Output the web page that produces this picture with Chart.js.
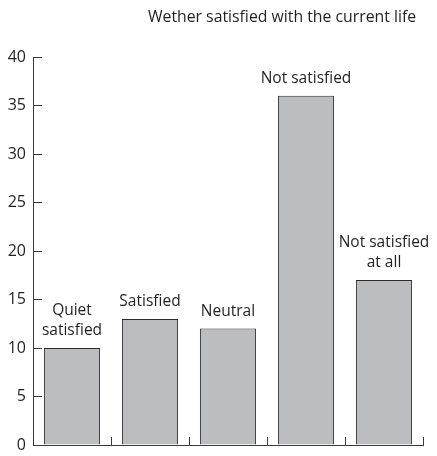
<!DOCTYPE html>
<html>
<head>
<meta charset="utf-8">
<script src="https://cdn.jsdelivr.net/npm/chart.js@4/dist/chart.umd.min.js"></script>
<style>
  html, body { margin: 0; padding: 0; background: #fff; }
  #wrap { width: 437px; height: 456px; }
</style>
</head>
<body>
<div id="wrap"><canvas id="chart"></canvas></div>
<script>
"use strict";

// Answers to the survey question, one bar per answer
var categories = ['Quiet satisfied', 'Satisfied', 'Neutral', 'Not satisfied', 'Not satisfied at all'];
var barLabels  = [['Quiet', 'satisfied'], ['Satisfied'], ['Neutral'], ['Not satisfied'], ['Not satisfied', 'at all']];
var counts     = [10, 13, 12, 36, 17];
var yTicks     = [0, 5, 10, 15, 20, 25, 30, 35, 40];
var chartTitle = 'Wether satisfied with the current life';

var FONT = '"Open Sans", "DejaVu Sans", sans-serif';
var INK  = '#231f20';
var AXIS = '#3a3a3a';

// Title and the captions above each bar
var labelsPlugin = {
	id: 'barCaptions',
	afterDatasetsDraw: function( chart ) {
		var ctx = chart.ctx;
		var meta = chart.getDatasetMeta( 0 );
		ctx.save();
		ctx.fillStyle = INK;
		ctx.textAlign = 'center';
		ctx.textBaseline = 'alphabetic';
		ctx.font = '15.5px ' + FONT;
		meta.data.forEach( function( bar, i ) {
			var lines = barLabels[i];
			for ( var l = 0; l < lines.length; l++ ) {
				var y = bar.y - 13 - ( lines.length - 1 - l ) * 20;
				ctx.fillText( lines[l], bar.x, y );
			}
		} );
		// Chart title, right of centre above the plot
		ctx.font = '15.8px ' + FONT;
		ctx.textBaseline = 'middle';
		ctx.fillText( chartTitle, chart.chartArea.right - 141, 17 );
		ctx.restore();
	}
};

new Chart( document.getElementById( 'chart' ), {
	type: 'bar',
	data: {
		labels: categories,
		datasets: [ {
			data: counts,
			backgroundColor: '#bcbdc0',
			borderColor: '#2b2b2b',
			borderWidth: 1,
			borderSkipped: 'bottom',
			barPercentage: 0.72,
			categoryPercentage: 1
		} ]
	},
	options: {
		responsive: true,
		maintainAspectRatio: false,
		animation: false,
		layout: { padding: { top: 57, right: 14, left: 0, bottom: 0 } },
		plugins: {
			legend: { display: false },
			tooltip: { enabled: false },
			title: { display: false }
		},
		scales: {
			x: {
				offset: true,
				grid: {
					offset: true,
					drawOnChartArea: false,
					drawTicks: true,
					tickLength: -8,		// ticks stand up from the axis
					color: AXIS,
					lineWidth: 1
				},
				border: { display: true, color: AXIS, width: 1 },
				ticks: { display: false },
				afterFit: function( scale ) { scale.height = 11; }
			},
			y: {
				min: 0,
				max: 40,
				afterBuildTicks: function( scale ) {
					scale.ticks = yTicks.map( function( v ) { return { value: v }; } );
				},
				grid: {
					drawOnChartArea: false,
					drawTicks: true,
					tickLength: -9,		// ticks point into the plot
					color: AXIS,
					lineWidth: 1
				},
				border: { display: true, color: AXIS, width: 1 },
				ticks: {
					color: INK,
					padding: 16,
					font: { family: FONT, size: 16 }
				},
				afterFit: function( scale ) {
					scale.width = 33;
					// the big label padding should not shrink the plot vertically
					scale.paddingTop = 0;
					scale.paddingBottom = 0;
				}
			}
		}
	},
	plugins: [ labelsPlugin ]
} );
</script>
</body>
</html>
